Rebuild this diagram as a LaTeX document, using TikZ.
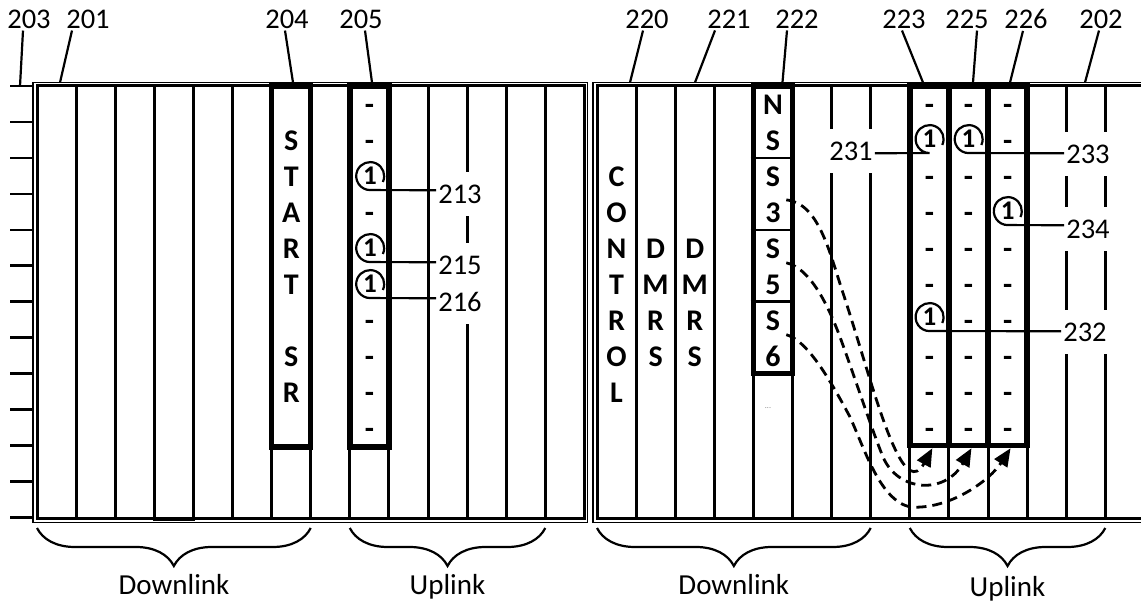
\documentclass[tikz,border=0pt]{standalone}
\usepackage{fontspec}
\setmainfont{Carlito}
\usetikzlibrary{arrows.meta,decorations.pathreplacing}

\begin{document}
\begin{tikzpicture}[x=1pt, y=-1pt]
	\tikzstyle{every node} = [inner sep=0pt]
	\tikzstyle{chr} = [font=\fontsize{30}{30}\selectfont\bfseries, anchor=base]
	\tikzstyle{num} = [font=\fontsize{28.5}{28.5}\selectfont, inner sep=2pt]
	\tikzstyle{tag} = [num, fill=white, minimum width=46pt, minimum height=44pt]
	\tikzstyle{one} = [circle, minimum size=28pt, font=\fontsize{27}{27}\selectfont\bfseries]
	\tikzstyle{bar} = [line width=3pt]
	\tikzstyle{rim} = [line width=1.5pt]
	\tikzstyle{slot} = [draw, rectangle, line width=5.5pt, minimum width=39.1pt]
	\tikzstyle{lead} = [line width=2.2pt]
	\tikzstyle{callout} = [line width=2.2pt]
	\tikzstyle{moved} = [line width=2.8pt, dash pattern=on 10pt off 6pt, -{Triangle[length=18pt,width=15pt]}]
	\tikzstyle{span} = [line width=2.2pt, decorate, decoration={brace, mirror, amplitude=38pt}]
	\tikzstyle{caption} = [font=\fontsize{29}{29}\selectfont, anchor=base]

	\useasboundingbox (0,0) rectangle (1141,601);
	\fill[white] (0,0) rectangle (1141,601);

	% two slots
	\draw[rim] (33,82.5) rectangle (587.5,522.5);
	\draw[rim] (593,82.5) rectangle (1160,522.5);
	\foreach \i in {1,...,13} {
		\draw[bar] ({37+39.1*\i},86) -- ({37+39.1*\i},518);
		\draw[bar] ({597+39.1*\i},86) -- ({597+39.1*\i},518);
	}
	\draw[bar, line width=2.5pt] (154.3,86) rectangle (193.4,520);
	\draw[bar] (37,86) rectangle (584,518);
	\draw[bar] (597,86) rectangle (1144.4,518);
	\foreach \j in {0,...,12}
		\draw[bar, line width=2.5pt] (10,{86+35.95*\j}) -- (33,{86+35.95*\j});

	% marked symbols
	\node[slot, minimum height=361pt] (b204) at (291.15,266.5) {};
	\node[slot, minimum height=361pt] (b205) at (369.35,266.5) {};
	\node[slot, minimum height=287.6pt] (b222) at (772.95,229.8) {};
	\node[slot, minimum height=359.5pt] (b223) at (929.35,265.75) {};
	\node[slot, minimum height=359.5pt] (b225) at (968.45,265.75) {};
	\node[slot, minimum height=359.5pt] (b226) at (1007.55,265.75) {};
	\foreach \y in {157.9,229.8,301.7}
		\draw[bar, line width=2.5pt] (b222.west |- 0,\y) -- (b222.east |- 0,\y);

	% contents
	\foreach \t/\r in {S/1,T/2,A/3,R/4,T/5,S/7,R/8}
		\node[chr] (sr\r) at (291.2,{115+35.95*\r}) {\t};
	\foreach \t/\r in {C/2,O/3,N/4,T/5,R/6,O/7,L/8}
		\node[chr] (ctl\r) at (616.5,{115+35.95*\r}) {\t};
	\foreach \t/\r in {D/4,M/5,R/6,S/7} {
		\node[chr] (dmA\r) at (655.6,{115+35.95*\r}) {\t};
		\node[chr] (dmB\r) at (694.7,{115+35.95*\r}) {\t};
	}
	\foreach \t/\r in {N/0,S/1,S/2,3/3,S/4,5/5,S/6,6/7}
		\node[chr] (ss\r) at (773,{115+35.95*\r}) {\t};
	\node[font=\fontsize{8}{8}\selectfont, text=gray] (more) at (768,408) {...};

	\foreach \r in {0,1,3,6,7,8,9}
		\node[chr] (da\r) at (369.4,{115+35.95*\r}) {-};
	\foreach \r in {0,2,3,4,5,7,8,9}
		\node[chr] (db\r) at (929.4,{115+35.95*\r}) {-};
	\foreach \r in {0,2,3,4,5,6,7,8,9}
		\node[chr] (dc\r) at (968.5,{115+35.95*\r}) {-};
	\foreach \r in {0,1,2,4,5,6,7,8,9}
		\node[chr] (dd\r) at (1007.6,{115+35.95*\r}) {-};

	% ones and their labels
	\node[one] (c213) at (370,176) {1};
	\node[one] (c215) at (370,248) {1};
	\node[one] (c216) at (370,284) {1};
	\node[one] (c231) at (929.4,139) {1};
	\node[one] (c233) at (968.5,139) {1};
	\node[one] (c234) at (1007.6,211) {1};
	\node[one] (c232) at (929.4,317) {1};
	\node[tag] (l213) at (460,194) {213};
	\node[tag] (l215) at (460,265) {215};
	\node[tag] (l216) at (460,302) {216};
	\node[tag] (l231) at (851,151) {231};
	\node[tag] (l233) at (1088,154) {233};
	\node[tag] (l234) at (1088,229) {234};
	\node[tag] (l232) at (1085,332) {232};
	\foreach \k in {213,215,216,233,234,232}
		\draw[callout] (c\k.-25) arc[start angle=25, end angle=-270, radius=14] -- (c\k.south -| l\k.west);
	\draw[callout] (c231.-25) arc[start angle=25, end angle=-270, radius=14] -- (c231.south -| l231.east);

	% reference numerals on top
	\foreach \n/\x/\dx/\px/\py in {203/29/-6/20/86, 201/88/-16/60/82.5, 204/287/-2/293/82.5, 205/361/4/372/82.5, 220/647/-4/630/82.5, 221/729/-14/695/82.5, 222/797/-10/782/88, 223/904/-2/923/82.5, 225/967/10/973/82.5, 226/1026/-3/1010/82.5, 202/1101/-2/1085/82.5} {
		\node[num] (l\n) at (\x,19) {\n};
		\coordinate (p\n) at (\px,\py);
		\draw[lead] ([xshift=\dx pt]l\n.south) -- (p\n);
	}

	% moved reference signals
	\draw[moved] ([shift={(6pt,-13pt)}]ss2.base east) .. controls (818,203) and (829,250) .. (842,290) .. controls (862,350) and (880,420) .. (897,453) .. controls (905,469) and (915,480) .. ([xshift=3pt]b223.south);
	\draw[moved] ([shift={(6pt,-4pt)}]ss4.base east) .. controls (810,268) and (828,305) .. (840,337) .. controls (855,378) and (872,430) .. (883,457) .. controls (898,492) and (945,495) .. ([xshift=3pt]b225.south);
	\draw[moved] ([shift={(6pt,-4pt)}]ss6.base east) .. controls (805,340) and (825,370) .. (850,417) .. controls (865,450) and (880,500) .. (910,507) .. controls (950,510) and (990,480) .. ([xshift=3pt]b226.south);

	% link directions
	\draw[span] (37,528) -- (310.7,528);
	\draw[span] (349.8,528) -- (545.3,528);
	\draw[span] (597,528) -- (870.7,528);
	\draw[span] (909.8,528) -- (1105.3,528);
	\node[caption] (dl1) at (174,594) {Downlink};
	\node[caption] (ul1) at (447.5,594) {Uplink};
	\node[caption] (dl2) at (733.8,594) {Downlink};
	\node[caption] (ul2) at (1007.5,596) {Uplink};
\end{tikzpicture}
\end{document}
